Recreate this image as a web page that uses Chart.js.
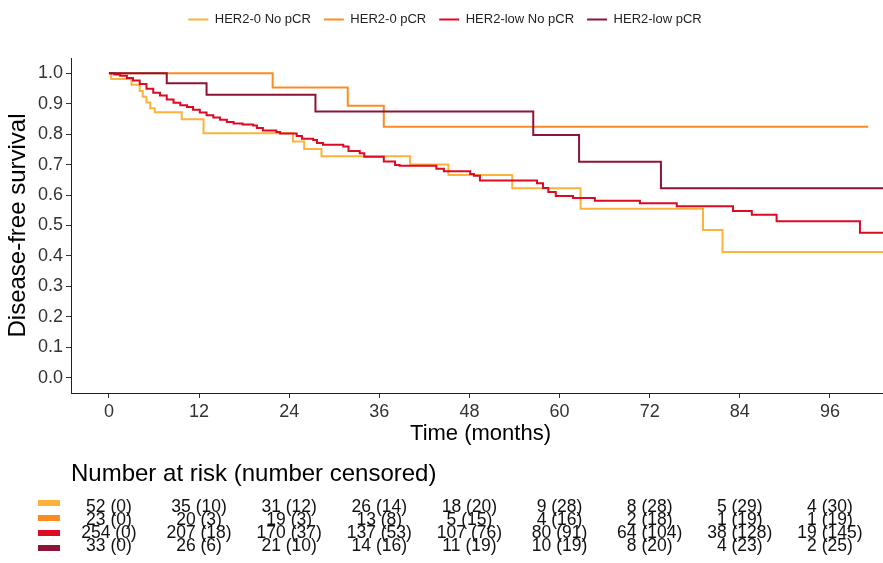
<!DOCTYPE html>
<html>
<head>
<meta charset="utf-8">
<script src="https://cdn.jsdelivr.net/npm/chart.js@4.4.1/dist/chart.umd.min.js"></script>
<style>
  html, body { margin: 0; padding: 0; background: #fff; overflow: hidden; }
  #wrap { width: 896px; height: 563px; }
</style>
</head>
<body>
<div id="wrap"><canvas id="kmChart"></canvas></div>
<script>
const seriesNames = ['HER2-0 No pCR', 'HER2-0 pCR', 'HER2-low No pCR', 'HER2-low pCR'];
const seriesColors = ['#FDB23A', '#FB8C24', '#DD0A23', '#8E1436'];

// step start times (months) and survival after each step
const her2ZeroNoPcrTime = [0, 0.3, 3.0, 4.1, 4.5, 5.0, 5.5, 6.1, 9.7, 12.6, 24.5, 26.0, 28.3, 40.1, 45.2, 53.7, 62.8, 79.1, 81.7, 104];
const her2ZeroNoPcrSurv = [1, 0.981, 0.962, 0.942, 0.923, 0.904, 0.885, 0.872, 0.849, 0.803, 0.776, 0.751, 0.727, 0.700, 0.666, 0.622, 0.555, 0.485, 0.413, 0.413];

const her2ZeroPcrTime = [0, 21.8, 31.8, 36.6, 101.1];
const her2ZeroPcrSurv = [1, 0.953, 0.893, 0.824, 0.824];

const her2LowNoPcrTime = [0, 0.7, 1.5, 2.4, 3.2, 4.1, 5.0, 5.9, 6.8, 7.7, 8.6, 9.5, 10.4, 11.2, 12.1, 13.0, 13.9, 14.8, 15.7, 16.6, 17.8, 19.2, 19.7, 20.5, 22.3, 22.8, 25.0, 25.7, 27.2, 27.7, 28.5, 31.2, 31.9, 33.4, 34.0, 36.6, 38.1, 38.7, 43.6, 44.6, 48.1, 48.6, 49.4, 57.0, 57.8, 58.5, 59.5, 61.8, 64.7, 70.7, 75.6, 83.1, 85.6, 88.9, 100.0, 104];
const her2LowNoPcrSurv = [1, 0.996, 0.992, 0.984, 0.976, 0.965, 0.949, 0.936, 0.927, 0.914, 0.903, 0.895, 0.889, 0.880, 0.871, 0.862, 0.855, 0.847, 0.840, 0.835, 0.832, 0.828, 0.820, 0.812, 0.807, 0.802, 0.794, 0.785, 0.781, 0.771, 0.765, 0.759, 0.745, 0.737, 0.726, 0.710, 0.699, 0.696, 0.686, 0.678, 0.669, 0.663, 0.648, 0.639, 0.623, 0.610, 0.597, 0.590, 0.581, 0.573, 0.563, 0.548, 0.535, 0.514, 0.476, 0.476];

const her2LowPcrTime = [0, 7.7, 13.0, 27.5, 56.5, 62.6, 73.5, 104];
const her2LowPcrSurv = [1, 0.967, 0.929, 0.874, 0.797, 0.709, 0.622, 0.622];

const xTickValues = [0, 12, 24, 36, 48, 60, 72, 84, 96];
const yTickValues = [0, 0.1, 0.2, 0.3, 0.4, 0.5, 0.6, 0.7, 0.8, 0.9, 1.0];

// number at risk (number censored) at each x tick
const riskTimes = [0, 12, 24, 36, 48, 60, 72, 84, 96];
const her2ZeroNoPcrAtRisk = [52, 35, 31, 26, 18, 9, 8, 5, 4];
const her2ZeroNoPcrCensored = [0, 10, 12, 14, 20, 28, 28, 29, 30];
const her2ZeroPcrAtRisk = [23, 20, 19, 13, 5, 4, 2, 1, 1];
const her2ZeroPcrCensored = [0, 3, 3, 8, 15, 16, 18, 19, 19];
const her2LowNoPcrAtRisk = [254, 207, 170, 137, 107, 80, 64, 38, 19];
const her2LowNoPcrCensored = [0, 18, 37, 53, 76, 91, 104, 128, 145];
const her2LowPcrAtRisk = [33, 26, 21, 14, 11, 10, 8, 4, 2];
const her2LowPcrCensored = [0, 6, 10, 16, 19, 19, 20, 23, 25];

const curves = [
  [her2ZeroNoPcrTime, her2ZeroNoPcrSurv],
  [her2ZeroPcrTime, her2ZeroPcrSurv],
  [her2LowNoPcrTime, her2LowNoPcrSurv],
  [her2LowPcrTime, her2LowPcrSurv]
];
const riskRows = [
  [her2ZeroNoPcrAtRisk, her2ZeroNoPcrCensored],
  [her2ZeroPcrAtRisk, her2ZeroPcrCensored],
  [her2LowNoPcrAtRisk, her2LowNoPcrCensored],
  [her2LowPcrAtRisk, her2LowPcrCensored]
];

const FONT = '"Liberation Sans", Arial, sans-serif';
Chart.defaults.font.family = FONT;

// extra room between legend and plot
const legendSpacer = {
  id: 'legendSpacer',
  beforeInit(chart) {
    const origFit = chart.legend.fit;
    chart.legend.fit = function () {
      origFit.bind(chart.legend)();
      this.height += 22;
    };
  }
};

// risk table under the x axis, columns placed by the x scale
const riskTable = {
  id: 'riskTable',
  afterDraw(chart) {
    const ctx = chart.ctx;
    const x = chart.scales.x;
    ctx.save();
    ctx.textBaseline = 'middle';
    ctx.fillStyle = '#000';
    ctx.textAlign = 'left';
    ctx.font = '24px ' + FONT;
    ctx.fillText('Number at risk (number censored)', chart.chartArea.left, 474);
    riskRows.forEach((row, i) => {
      ctx.fillStyle = seriesColors[i];
      ctx.fillRect(38, 500 + i * 15, 22, 6);
      ctx.fillStyle = '#111';
      ctx.font = '17.5px ' + FONT;
      ctx.textAlign = 'center';
      riskTimes.forEach((t, j) => {
        ctx.fillText(row[0][j] + ' (' + row[1][j] + ')', x.getPixelForValue(t), 507 + i * 13);
      });
    });
    ctx.restore();
  }
};

const ctx = document.getElementById('kmChart').getContext('2d');
new Chart(ctx, {
  type: 'line',
  data: {
    datasets: curves.map((c, i) => ({
      label: seriesNames[i],
      data: c[0].map((t, k) => ({ x: t, y: c[1][k] })),
      borderColor: seriesColors[i],
      backgroundColor: seriesColors[i],
      borderWidth: 2,
      stepped: true,
      pointRadius: 0,
      pointStyle: 'line',
      fill: false,
      order: 4 - i
    }))
  },
  options: {
    responsive: true,
    maintainAspectRatio: false,
    animation: false,
    layout: { padding: { left: 0, right: 6, top: 0, bottom: 115 } },
    plugins: {
      tooltip: { enabled: false },
      legend: {
        position: 'top',
        labels: {
          usePointStyle: true,
          pointStyleWidth: 20,
          padding: 13,
          color: '#222',
          font: { size: 13 },
          sort: (a, b) => a.datasetIndex - b.datasetIndex
        }
      }
    },
    scales: {
      x: {
        type: 'linear',
        min: -5.05,
        max: 104,
        afterBuildTicks: (scale) => { scale.ticks = xTickValues.map(v => ({ value: v })); },
        afterFit: (scale) => { scale.height = 55; },
        grid: { display: true, drawOnChartArea: false, drawTicks: true, tickLength: 5, color: '#333' },
        border: { display: true, color: '#222', width: 1 },
        ticks: { color: '#333', font: { size: 18 }, padding: 3, maxRotation: 0 },
        title: { display: true, text: 'Time (months)', color: '#000', font: { size: 22 }, padding: { top: 0, bottom: 1 } }
      },
      y: {
        min: -0.05,
        max: 1.05,
        afterBuildTicks: (scale) => { scale.ticks = yTickValues.map(v => ({ value: v })); },
        afterFit: (scale) => { scale.width = 71; },
        grid: { display: true, drawOnChartArea: false, drawTicks: true, tickLength: 5, color: '#333' },
        border: { display: true, color: '#222', width: 1 },
        ticks: { color: '#333', font: { size: 18 }, padding: 3, callback: (v) => v.toFixed(1) },
        title: { display: true, text: 'Disease-free survival', color: '#000', font: { size: 24 }, padding: { top: 4, bottom: 0 } }
      }
    }
  },
  plugins: [legendSpacer, riskTable]
});
</script>
</body>
</html>
